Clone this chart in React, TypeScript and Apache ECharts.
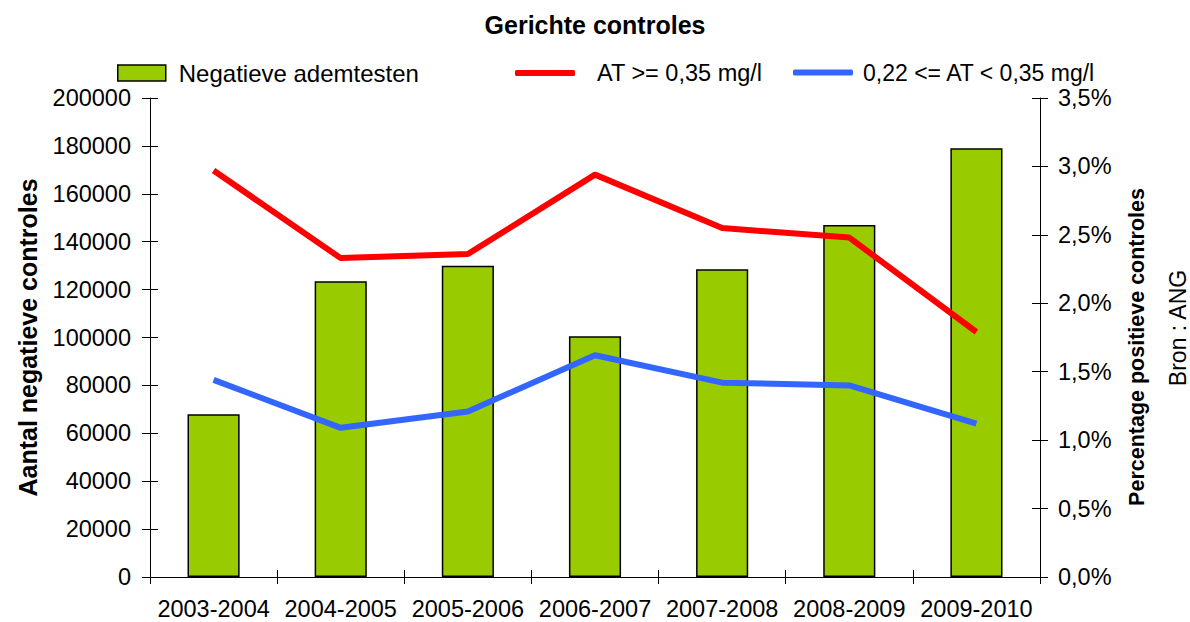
import React, { useEffect, useRef } from "react";
import * as echarts from "echarts";

const categories = ["2003-2004", "2004-2005", "2005-2006", "2006-2007", "2007-2008", "2008-2009", "2009-2010"];
const negatieveAdemtesten = [68000, 123500, 130000, 100500, 128500, 147000, 179000];
const atHigh = [2.97, 2.33, 2.36, 2.94, 2.55, 2.48, 1.79];
const atMid = [1.44, 1.09, 1.21, 1.62, 1.42, 1.40, 1.12];

const FONT = "'Liberation Sans', Arial, sans-serif";
const FS = 23.5;

export default function App() {
  const ref = useRef<HTMLDivElement>(null);
  useEffect(() => {
    if (!ref.current) return;
    const chart = echarts.init(ref.current, undefined, { renderer: "svg" });
    const axisLineStyle = { color: "#000", width: 1 };
    const pctFmt = (v: number) => v.toFixed(1).replace(".", ",") + "%";
    chart.setOption({
      animation: false,
      textStyle: { fontFamily: FONT },
      title: {
        text: "Gerichte controles",
        left: "center",
        top: 7,
        textStyle: { fontFamily: FONT, fontSize: 25, fontWeight: "bold", color: "#000" },
      },
      legend: [
        {
          left: 112,
          top: 56,
          itemWidth: 48,
          itemHeight: 16,
          icon: "rect",
          textStyle: { fontFamily: FONT, fontSize: 24, color: "#000", padding: [0, 0, 0, 8] },
          data: [{ name: "Negatieve ademtesten", itemStyle: { color: "#99CC00", borderColor: "#000", borderWidth: 1.5 } }],
        },
        {
          left: 510,
          top: 56,
          itemWidth: 60,
          itemHeight: 6,
          icon: "roundRect",
          textStyle: { fontFamily: FONT, fontSize: 23.5, color: "#000", padding: [0, 0, 0, 17] },
          data: [{ name: "AT >= 0,35 mg/l" }],
        },
        {
          left: 788,
          top: 56,
          itemWidth: 60,
          itemHeight: 6,
          icon: "roundRect",
          textStyle: { fontFamily: FONT, fontSize: 23, color: "#000", padding: [0, 0, 0, 5] },
          data: [{ name: "0,22 <= AT < 0,35 mg/l" }],
        },
      ],
      grid: { left: 150, right: 150, top: 98, bottom: 45, containLabel: false },
      xAxis: [
        {
          type: "category",
          data: categories,
          boundaryGap: true,
          axisLine: { lineStyle: axisLineStyle },
          axisTick: { show: true, length: 7, alignWithLabel: false, lineStyle: axisLineStyle },
          axisLabel: { fontFamily: FONT, fontSize: FS, color: "#000", margin: 20, interval: 0 },
        },
        {
          type: "category",
          data: categories,
          position: "bottom",
          boundaryGap: true,
          axisLine: { show: false },
          axisTick: { show: true, inside: true, length: 7, lineStyle: axisLineStyle },
          axisLabel: { show: false },
        },
      ],
      yAxis: [
        {
          type: "value",
          position: "left",
          min: 0,
          max: 200000,
          interval: 20000,
          name: "Aantal negatieve controles",
          nameLocation: "middle",
          nameRotate: 90,
          nameGap: 110,
          nameTextStyle: { fontFamily: FONT, fontSize: 25, fontWeight: "bold", color: "#000" },
          splitLine: { show: false },
          axisLine: { show: true, lineStyle: axisLineStyle },
          axisTick: { show: true, length: 8, lineStyle: axisLineStyle },
          axisLabel: { fontFamily: FONT, fontSize: FS, color: "#000", margin: 19, formatter: (v: number) => String(v) },
        },
        {
          type: "value",
          position: "right",
          min: 0,
          max: 3.5,
          interval: 0.5,
          splitLine: { show: false },
          axisLine: { show: true, lineStyle: axisLineStyle },
          axisTick: { show: true, length: 8, lineStyle: axisLineStyle },
          axisLabel: { fontFamily: FONT, fontSize: FS, color: "#000", margin: 18, formatter: pctFmt },
        },
        {
          type: "value",
          position: "left",
          min: 0,
          max: 200000,
          interval: 20000,
          splitLine: { show: false },
          axisLine: { show: false },
          axisTick: { show: true, inside: true, length: 8, lineStyle: axisLineStyle },
          axisLabel: { show: false },
        },
        {
          type: "value",
          position: "right",
          min: 0,
          max: 3.5,
          interval: 0.5,
          splitLine: { show: false },
          axisLine: { show: false },
          axisTick: { show: true, inside: true, length: 8, lineStyle: axisLineStyle },
          axisLabel: { show: false },
        },
      ],
      graphic: [
        {
          type: "text",
          x: 1137,
          y: 347,
          rotation: Math.PI / 2,
          style: {
            text: "Percentage positieve controles",
            fontFamily: FONT,
            fontSize: 21.5,
            fontWeight: "bold",
            fill: "#000",
            align: "center",
            verticalAlign: "middle",
          },
        },
        {
          type: "text",
          x: 1166,
          y: 328,
          rotation: Math.PI / 2,
          style: {
            text: "Bron : ANG",
            fontFamily: FONT,
            fontSize: 23,
            fill: "#000",
            align: "center",
            verticalAlign: "top",
          },
        },
      ],
      series: [
        {
          name: "Negatieve ademtesten",
          type: "bar",
          xAxisIndex: 0,
          yAxisIndex: 0,
          data: negatieveAdemtesten,
          barWidth: "41%",
          itemStyle: { color: "#99CC00", borderColor: "#000", borderWidth: 1.5 },
        },
        {
          name: "AT >= 0,35 mg/l",
          type: "line",
          xAxisIndex: 0,
          yAxisIndex: 1,
          data: atHigh,
          symbol: "none",
          lineStyle: { color: "#FF0000", width: 6 },
          itemStyle: { color: "#FF0000" },
        },
        {
          name: "0,22 <= AT < 0,35 mg/l",
          type: "line",
          xAxisIndex: 0,
          yAxisIndex: 1,
          data: atMid,
          symbol: "none",
          lineStyle: { color: "#3366FF", width: 6 },
          itemStyle: { color: "#3366FF" },
        },
      ],
    });
    return () => chart.dispose();
  }, []);
  return <div ref={ref} style={{ width: 1190, height: 622, position: "absolute", left: 0, top: 0 }} />;
}
